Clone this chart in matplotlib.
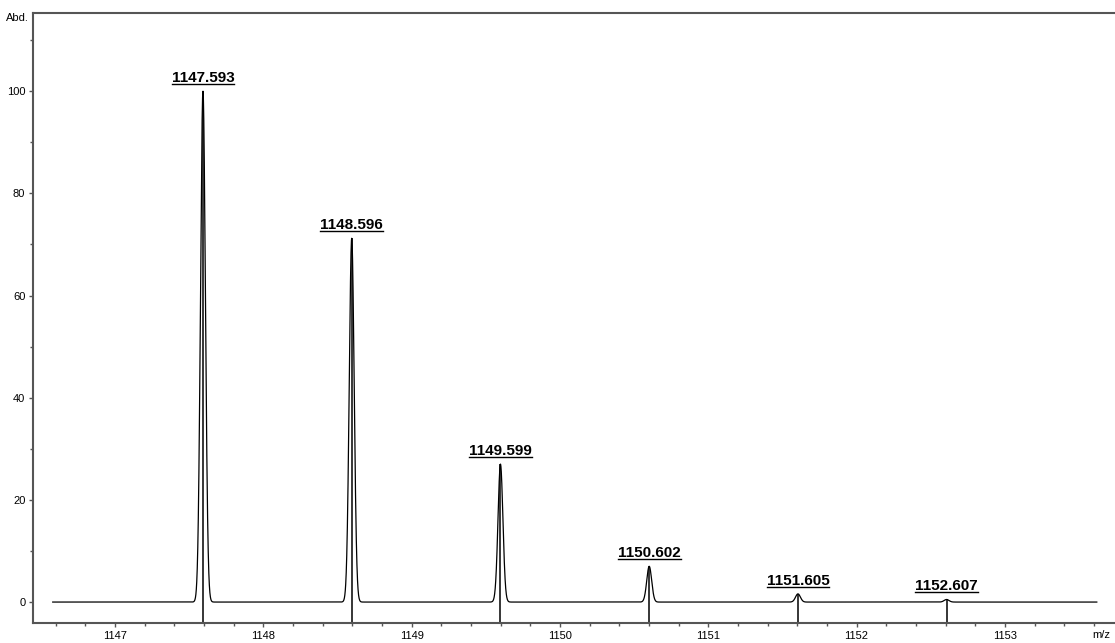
import numpy as np
import matplotlib
matplotlib.use("Agg")
import matplotlib.pyplot as plt
from matplotlib.ticker import MultipleLocator
from matplotlib.transforms import blended_transform_factory

plt.rcParams['font.family'] = ['Liberation Sans', 'DejaVu Sans']

# peak list (m/z, relative abundance)
peak_mz = [1147.593, 1148.596, 1149.599, 1150.602, 1151.605, 1152.607]
peak_abd = [100.0, 71.2, 27.0, 7.0, 1.6, 0.5]
peak_labels = ['1147.593', '1148.596', '1149.599', '1150.602', '1151.605', '1152.607']

x_ticks = [1147, 1148, 1149, 1150, 1151, 1152, 1153]
y_ticks = [0, 20, 40, 60, 80, 100]

# profile range and peak width
mz_start, mz_end = 1146.58, 1153.62
sigma = 0.0165

fig = plt.figure(figsize=(11.15, 6.43), dpi=100)
ax = fig.add_axes([33 / 1115, 20 / 643, 1081 / 1115, 610 / 643])

mz = np.linspace(mz_start, mz_end, 12000)
profile = np.zeros_like(mz)
for c, h in zip(peak_mz, peak_abd):
    profile += h * np.exp(-(mz - c) ** 2 / (2 * sigma ** 2))

ax.plot(mz, profile, color='black', lw=0.9)
ax.vlines(peak_mz, -4.1, peak_abd, color='black', lw=1.1)

ax.set_xlim(1146.447, 1153.736)
ax.set_ylim(-4.1, 115.3)

ax.xaxis.set_major_locator(MultipleLocator(1))
ax.xaxis.set_minor_locator(MultipleLocator(0.2))
ax.yaxis.set_major_locator(MultipleLocator(20))
ax.yaxis.set_minor_locator(MultipleLocator(10))
ax.set_xticks(x_ticks)
ax.set_yticks(y_ticks)
ax.tick_params(which='both', direction='out', length=3, width=1,
               color='#555555', labelsize=8, pad=2.5)
ax.tick_params(which='minor', length=2)

for side in ['left', 'bottom', 'top']:
    ax.spines[side].set_color('#555555')
    ax.spines[side].set_linewidth(1.5)
ax.spines['right'].set_visible(False)

trans = blended_transform_factory(ax.transData, ax.transAxes)
ax.text(1153.65, -0.012, 'm/z', transform=trans, ha='center', va='top', fontsize=8)
fig.text(29 / 1115, 1 - 18 / 643, 'Abd.', ha='right', va='center', fontsize=8)

texts = []
for c, h, lab in zip(peak_mz, peak_abd, peak_labels):
    t = ax.annotate(lab, (c, h), xytext=(0, 6), textcoords='offset pixels',
                    ha='center', va='bottom', fontsize=11, fontweight='bold')
    texts.append(t)

# underline the peak labels
fig.canvas.draw()
renderer = fig.canvas.get_renderer()
inv = fig.transFigure.inverted()
for t in texts:
    bb = t.get_window_extent(renderer)
    x0, y0 = inv.transform((bb.x0, bb.y0 + 1))
    x1, _ = inv.transform((bb.x1, bb.y0 + 1))
    fig.add_artist(plt.Line2D([x0, x1], [y0, y0], color='black', lw=1.0))

fig.savefig('out.png', dpi=100)
